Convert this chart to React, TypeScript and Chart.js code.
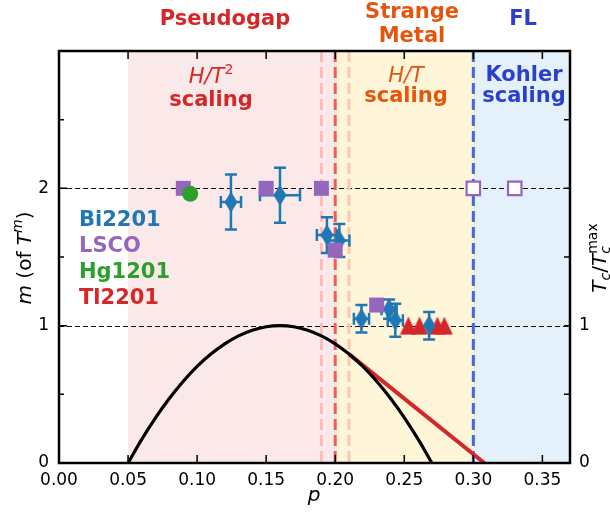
import React, { useEffect, useRef } from "react";
import { Chart, registerables } from "chart.js";
Chart.register(...registerables);

// ---------- data ----------
const xTickValues = [0, 0.05, 0.1, 0.15, 0.2, 0.25, 0.3, 0.35];
const yTickValues = [0, 0.5, 1, 1.5, 2, 2.5, 3];
const yLabeled = [0, 1, 2];
const y2Labeled = [0, 1];

// Bi2201 (blue diamonds with error bars)
const biP = [0.1245, 0.16, 0.194, 0.203, 0.219, 0.239, 0.2435, 0.268];
const biM = [1.9, 1.95, 1.66, 1.62, 1.05, 1.12, 1.04, 1.0];
const biPErr = [0.0073, 0.0145, 0.0073, 0.0073, 0.0055, 0.0055, 0.0055, 0];
const biMErr = [0.2, 0.2, 0.13, 0.12, 0.1, 0.07, 0.12, 0.1];

// LSCO (purple squares)
const lscoP = [0.09, 0.15, 0.19, 0.2, 0.23];
const lscoM = [2, 2, 2, 1.55, 1.15];
const lscoOpenP = [0.3, 0.33];
const lscoOpenM = [2, 2];

// Hg1201 (green circle)
const hgP = [0.095];
const hgM = [1.96];

// Tl2201 (red triangles)
const tlP = [0.253, 0.261, 0.274, 0.279];
const tlM = [1.0, 1.0, 1.0, 1.0];

// Tc / Tc^max dome
const domeP = [0.05, 0.06, 0.07, 0.08, 0.09, 0.1, 0.11, 0.12, 0.13, 0.14, 0.15, 0.16, 0.17, 0.18, 0.19, 0.2, 0.21, 0.22, 0.23, 0.24, 0.25, 0.26, 0.27];
const domeTc = [0, 0.174, 0.331, 0.471, 0.595, 0.703, 0.793, 0.868, 0.926, 0.967, 0.992, 1.0, 0.992, 0.967, 0.926, 0.868, 0.793, 0.703, 0.595, 0.471, 0.331, 0.174, 0];

// red linear line
const redP = [0.21, 0.308];
const redTc = [0.793, 0];

// regions / boundaries
const regionEdges = [0.05, 0.2, 0.3, 0.37];
const boundaryP = [0.19, 0.2, 0.21, 0.3];

const BLUE = "#1f77b4";
const PURPLE = "#9467bd";
const GREEN = "#2ca02c";
const RED = "#d62728";
const ORANGE = "#e6550d";
const KBLUE = "#2a3fcc";
const FONT = '"DejaVu Sans"';

type Seg = { t: string; f: string; dy?: number; stack?: boolean };

function richWidth(ctx: CanvasRenderingContext2D, segs: Seg[]) {
  let x = 0;
  let maxX = 0;
  let prevStart = 0;
  for (const s of segs) {
    ctx.font = s.f;
    const w = ctx.measureText(s.t).width;
    const start = s.stack ? prevStart : x;
    x = Math.max(x, start + w);
    if (!s.stack) prevStart = start;
    maxX = Math.max(maxX, x);
  }
  return maxX;
}

function drawRich(ctx: CanvasRenderingContext2D, segs: Seg[], cx: number, by: number, color: string) {
  const total = richWidth(ctx, segs);
  let x = cx - total / 2;
  let prevStart = x;
  let end = x;
  ctx.fillStyle = color;
  ctx.textAlign = "left";
  ctx.textBaseline = "alphabetic";
  for (const s of segs) {
    ctx.font = s.f;
    const w = ctx.measureText(s.t).width;
    const start = s.stack ? prevStart : end;
    ctx.fillText(s.t, start, by + (s.dy || 0));
    if (!s.stack) prevStart = start;
    end = Math.max(end, start + w);
  }
}

function makeDiamond() {
  const c = document.createElement("canvas");
  c.width = 14;
  c.height = 22;
  const g = c.getContext("2d")!;
  g.fillStyle = BLUE;
  g.beginPath();
  g.moveTo(7, 0.5);
  g.lineTo(13.5, 11);
  g.lineTo(7, 21.5);
  g.lineTo(0.5, 11);
  g.closePath();
  g.fill();
  return c;
}

function makeTriangle() {
  const c = document.createElement("canvas");
  c.width = 18;
  c.height = 19;
  const g = c.getContext("2d")!;
  g.fillStyle = RED;
  g.beginPath();
  g.moveTo(9, 0.5);
  g.lineTo(17.5, 18.5);
  g.lineTo(0.5, 18.5);
  g.closePath();
  g.fill();
  return c;
}

const BI_INDEX = 2;

export default function App() {
  const ref = useRef<HTMLCanvasElement | null>(null);

  useEffect(() => {
    const canvas = ref.current!;
    const diamond = makeDiamond();
    const triangle = makeTriangle();

    const decor = {
      id: "decor",
      beforeDatasetsDraw(chart: any) {
        const { ctx, chartArea: a, scales } = chart;
        const xs = scales.x;
        const ys = scales.y;
        ctx.save();
        const bg = ["#fbe9e9", "#fff6da", "#e4f1fb"];
        for (let i = 0; i < 3; i++) {
          const x0 = xs.getPixelForValue(regionEdges[i]);
          const x1 = xs.getPixelForValue(regionEdges[i + 1]);
          ctx.fillStyle = bg[i];
          ctx.fillRect(x0, a.top, x1 - x0, a.bottom - a.top);
        }
        // horizontal dashed lines
        ctx.strokeStyle = "#111";
        ctx.lineWidth = 1.2;
        ctx.setLineDash([5, 3]);
        for (const v of [1, 2]) {
          const y = Math.round(ys.getPixelForValue(v)) + 0.5;
          ctx.beginPath();
          ctx.moveTo(a.left, y);
          ctx.lineTo(a.right, y);
          ctx.stroke();
        }
        // vertical dashed lines
        const vcol = ["#fbbcbc", "#f25a5a", "#fdc8b0", "#4169e1"];
        ctx.lineWidth = 3;
        ctx.setLineDash([11, 5]);
        boundaryP.forEach((p, i) => {
          const x = xs.getPixelForValue(p);
          ctx.strokeStyle = vcol[i];
          ctx.beginPath();
          ctx.moveTo(x, a.top);
          ctx.lineTo(x, a.bottom);
          ctx.stroke();
        });
        ctx.restore();
      },
      beforeDatasetDraw(chart: any, args: any) {
        if (args.index !== BI_INDEX) return;
        const { ctx, scales } = chart;
        const xs = scales.x;
        const ys = scales.y;
        ctx.save();
        ctx.strokeStyle = BLUE;
        ctx.lineWidth = 2.5;
        ctx.setLineDash([]);
        const cap = 6;
        biP.forEach((p, i) => {
          const cx = xs.getPixelForValue(p);
          const cy = ys.getPixelForValue(biM[i]);
          if (biMErr[i] > 0) {
            const t = ys.getPixelForValue(biM[i] + biMErr[i]);
            const b = ys.getPixelForValue(biM[i] - biMErr[i]);
            ctx.beginPath();
            ctx.moveTo(cx, t);
            ctx.lineTo(cx, b);
            ctx.moveTo(cx - cap, t);
            ctx.lineTo(cx + cap, t);
            ctx.moveTo(cx - cap, b);
            ctx.lineTo(cx + cap, b);
            ctx.stroke();
          }
          if (biPErr[i] > 0) {
            const l = xs.getPixelForValue(p - biPErr[i]);
            const r = xs.getPixelForValue(p + biPErr[i]);
            ctx.beginPath();
            ctx.moveTo(l, cy);
            ctx.lineTo(r, cy);
            ctx.moveTo(l, cy - cap);
            ctx.lineTo(l, cy + cap);
            ctx.moveTo(r, cy - cap);
            ctx.lineTo(r, cy + cap);
            ctx.stroke();
          }
        });
        ctx.restore();
      },
      afterDatasetsDraw(chart: any) {
        const { ctx, chartArea: a, scales } = chart;
        const xs = scales.x;
        const ys = scales.y;
        const y2 = scales.y2;
        ctx.save();
        ctx.setLineDash([]);
        ctx.strokeStyle = "#000";
        // ticks inward
        ctx.lineWidth = 1.5;
        ctx.beginPath();
        for (const v of xTickValues) {
          const x = xs.getPixelForValue(v);
          ctx.moveTo(x, a.bottom);
          ctx.lineTo(x, a.bottom - 8);
          ctx.moveTo(x, a.top);
          ctx.lineTo(x, a.top + 8);
        }
        for (const v of yTickValues) {
          const y = ys.getPixelForValue(v);
          const len = Number.isInteger(v) ? 8 : 5;
          ctx.moveTo(a.left, y);
          ctx.lineTo(a.left + len, y);
          const y2p = y2.getPixelForValue(v);
          ctx.moveTo(a.right, y2p);
          ctx.lineTo(a.right - 6, y2p);
        }
        ctx.stroke();
        // frame
        ctx.lineWidth = 2.5;
        ctx.strokeRect(a.left, a.top, a.right - a.left, a.bottom - a.top);

        // in-plot annotations
        const b21 = `bold 21px ${FONT}`;
        const i21 = `italic 21px ${FONT}`;
        const n14 = `14px ${FONT}`;
        drawRich(ctx, [{ t: "H/T", f: i21 }, { t: "2", f: n14, dy: -9 }], 211, 83, RED);
        drawRich(ctx, [{ t: "scaling", f: b21 }], 211, 106, RED);
        drawRich(ctx, [{ t: "H/T", f: i21 }], 406, 82, ORANGE);
        drawRich(ctx, [{ t: "scaling", f: b21 }], 406, 102, ORANGE);
        drawRich(ctx, [{ t: "Kohler", f: b21 }], 524, 81, KBLUE);
        drawRich(ctx, [{ t: "scaling", f: b21 }], 524, 102, KBLUE);

        // legend text
        ctx.font = b21;
        ctx.textAlign = "left";
        ctx.textBaseline = "alphabetic";
        const leg: [string, string][] = [["Bi2201", BLUE], ["LSCO", PURPLE], ["Hg1201", GREEN], ["Tl2201", RED]];
        leg.forEach(([t, c], i) => {
          ctx.fillStyle = c;
          ctx.fillText(t, 79, 226 + i * 26);
        });
        ctx.restore();
      },
      afterDraw(chart: any) {
        const { ctx } = chart;
        ctx.save();
        const b21 = `bold 21px ${FONT}`;
        drawRich(ctx, [{ t: "Pseudogap", f: b21 }], 225, 25, RED);
        drawRich(ctx, [{ t: "Strange", f: b21 }], 412, 18, ORANGE);
        drawRich(ctx, [{ t: "Metal", f: b21 }], 412, 42, ORANGE);
        drawRich(ctx, [{ t: "FL", f: b21 }], 523, 25, KBLUE);

        // x title
        drawRich(ctx, [{ t: "p", f: `italic 20px ${FONT}` }], 314, 501, "#000");

        // left y title (rotated)
        const i20 = `italic 20px ${FONT}`;
        const n20 = `20px ${FONT}`;
        const i14 = `italic 14px ${FONT}`;
        ctx.translate(31, 258);
        ctx.rotate(-Math.PI / 2);
        drawRich(
          ctx,
          [
            { t: "m", f: i20 },
            { t: " (of ", f: n20 },
            { t: "T", f: i20 },
            { t: "m", f: i14, dy: -9 },
            { t: ")", f: n20 },
          ],
          0,
          0,
          "#000"
        );
        ctx.restore();

        ctx.save();
        ctx.translate(606, 258);
        ctx.rotate(-Math.PI / 2);
        drawRich(
          ctx,
          [
            { t: "T", f: i20 },
            { t: "c", f: i14, dy: 4 },
            { t: "/", f: n20 },
            { t: "T", f: i20 },
            { t: "c", f: i14, dy: 4 },
            { t: "max", f: `14px ${FONT}`, dy: -9, stack: true },
          ],
          0,
          0,
          "#000"
        );
        ctx.restore();
      },
    };

    const pts = (xs: number[], ys: number[]) => xs.map((x, i) => ({ x, y: ys[i] }));

    const chart = new Chart(canvas, {
      type: "scatter",
      data: {
        datasets: [
          {
            label: "Hg1201",
            data: pts(hgP, hgM),
            pointStyle: "circle",
            pointRadius: 8,
            backgroundColor: GREEN,
            borderColor: GREEN,
            borderWidth: 0,
            order: 0,
          },
          {
            label: "LSCO open",
            data: pts(lscoOpenP, lscoOpenM),
            pointStyle: "rect",
            pointRadius: 9.5,
            backgroundColor: "#ffffff",
            borderColor: PURPLE,
            borderWidth: 2.2,
            order: 1,
          },
          {
            label: "Bi2201",
            data: pts(biP, biM),
            pointStyle: diamond as any,
            pointRadius: 10,
            backgroundColor: BLUE,
            borderColor: BLUE,
            order: 3,
          },
          {
            label: "LSCO",
            data: pts(lscoP, lscoM),
            pointStyle: "rect",
            pointRadius: 10.6,
            backgroundColor: PURPLE,
            borderColor: PURPLE,
            borderWidth: 0,
            order: 2,
          },
          {
            label: "Tl2201",
            data: pts(tlP, tlM),
            pointStyle: triangle as any,
            pointRadius: 9,
            backgroundColor: RED,
            borderColor: RED,
            order: 4,
          },
          {
            label: "dome",
            data: pts(domeP, domeTc),
            yAxisID: "y2",
            showLine: true,
            pointRadius: 0,
            borderColor: "#000",
            borderWidth: 3.2,
            tension: 0.4,
            order: 5,
          } as any,
          {
            label: "linear",
            data: pts(redP, redTc),
            yAxisID: "y2",
            showLine: true,
            pointRadius: 0,
            borderColor: RED,
            borderWidth: 4,
            order: 6,
          } as any,
        ],
      },
      options: {
        animation: false,
        responsive: false,
        devicePixelRatio: 1,
        layout: { padding: { top: 51, left: 0, right: 0, bottom: 0 }, autoPadding: false } as any,
        plugins: { legend: { display: false }, tooltip: { enabled: false } },
        events: [],
        scales: {
          x: {
            type: "linear",
            position: "bottom",
            min: 0,
            max: 0.37,
            afterBuildTicks: (s: any) => {
              s.ticks = xTickValues.map((v) => ({ value: v }));
            },
            afterFit: (s: any) => {
              s.height = 51;
            },
            grid: { display: false, drawTicks: false },
            border: { display: false },
            ticks: {
              autoSkip: false,
              maxRotation: 0,
              padding: 7,
              color: "#000",
              font: { family: "DejaVu Sans", size: 17 },
              callback: (v: any) => Number(v).toFixed(2),
            },
          },
          y: {
            type: "linear",
            position: "left",
            min: 0,
            max: 3,
            afterBuildTicks: (s: any) => {
              s.ticks = yTickValues.map((v) => ({ value: v }));
            },
            afterFit: (s: any) => {
              s.width = 59;
            },
            grid: { display: false, drawTicks: false },
            border: { display: false },
            ticks: {
              autoSkip: false,
              padding: 10,
              color: "#000",
              font: { family: "DejaVu Sans", size: 17 },
              callback: (v: any) => (yLabeled.includes(Number(v)) ? String(v) : ""),
            },
          },
          y2: {
            type: "linear",
            position: "right",
            min: 0,
            max: 3,
            afterBuildTicks: (s: any) => {
              s.ticks = yTickValues.map((v) => ({ value: v }));
            },
            afterFit: (s: any) => {
              s.width = 40;
            },
            grid: { display: false, drawTicks: false },
            border: { display: false },
            ticks: {
              autoSkip: false,
              padding: 9,
              color: "#000",
              font: { family: "DejaVu Sans", size: 17 },
              callback: (v: any) => (y2Labeled.includes(Number(v)) ? String(v) : ""),
            },
          },
        },
      },
      plugins: [decor],
    });

    return () => chart.destroy();
  }, []);

  return (
    <div style={{ position: "absolute", left: 0, top: 0, width: 610, height: 514, background: "#fff" }}>
      <canvas ref={ref} width={610} height={514} style={{ display: "block" }} />
    </div>
  );
}
